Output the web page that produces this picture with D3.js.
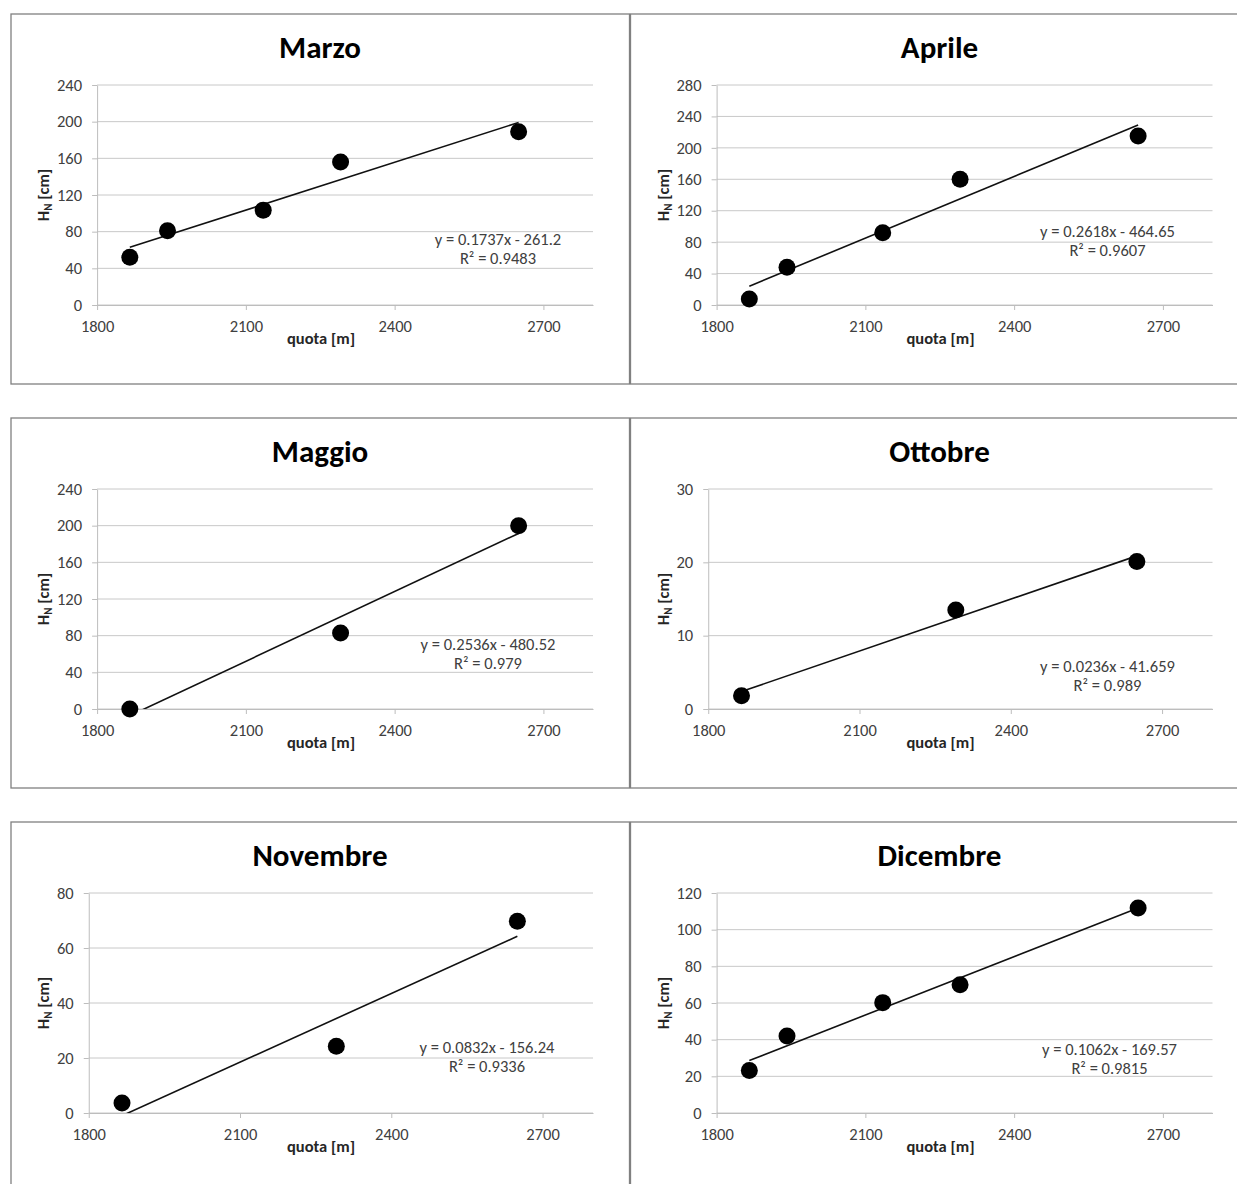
<!DOCTYPE html>
<meta charset="utf-8">
<style>

body {
	margin: 0;
	background-color: #fff;
}

text {
	font-family: Carlito, Calibri, Lato, sans-serif;
}

.frame {
	fill: #fff;
	stroke: #808080;
	stroke-width: 1.3px;
}

.grid {
	stroke: #c8c8c8;
	stroke-width: 1px;
}

.axis path, .axis line {
	stroke: #bdbdbd;
}

.axis text {
	fill: #404040;
	font-size: 16.5px;
}

.title {
	font-size: 31px;
	font-weight: bold;
	fill: #000;
	text-anchor: middle;
}

.axis-title {
	font-size: 16.5px;
	font-weight: bold;
	fill: #262626;
	text-anchor: middle;
}

.eq {
	font-size: 16.5px;
	fill: #404040;
	text-anchor: middle;
}

</style>
<body>

<svg width="1237" height="1184"></svg>

<script src="https://d3js.org/d3.v7.min.js"></script>

<script>

var svg = d3.select("svg");

// data
var months = ["Marzo", "Aprile", "Maggio", "Ottobre", "Novembre", "Dicembre"];
var quotaFive = [1866, 1942, 2135, 2291, 2650];
var quotaThree = [1866, 2291, 2650];
var hnMarzo = [52, 81, 103.5, 156, 189];
var hnAprile = [7.5, 48, 92, 160, 215];
var hnMaggio = [0, 83, 200];
var hnOttobre = [1.8, 13.5, 20.1];
var hnNovembre = [3.6, 24.3, 69.7];
var hnDicembre = [23.2, 42, 60.2, 70, 111.8];
var slopes = [0.1737, 0.2618, 0.2536, 0.0236, 0.0832, 0.1062];
var intercepts = [-261.2, -464.65, -480.52, -41.659, -156.24, -169.57];
var r2 = ["0.9483", "0.9607", "0.979", "0.989", "0.9336", "0.9815"];
var yMax = [240, 280, 240, 30, 80, 120];
var yStep = [40, 40, 40, 10, 20, 20];
var xTicks = [1800, 2100, 2400, 2700];
var xDomain = [1800, 2800];

var series = [
	{x: quotaFive, y: hnMarzo},
	{x: quotaFive, y: hnAprile},
	{x: quotaThree, y: hnMaggio},
	{x: quotaThree, y: hnOttobre},
	{x: quotaThree, y: hnNovembre},
	{x: quotaFive, y: hnDicembre}
];

// where the trendline label sits inside each chart box
var eqSpot = [[487, 226], [477, 218], [477, 227], [477, 249], [476, 226], [479, 228]];

var boxX = [11, 630.5],
	boxY = [14, 418, 822],
	boxW = [618.5, 620],
	boxH = 370;

months.forEach(function(month, i) {
	var col = i % 2, row = Math.floor(i / 2);
	var g = svg.append("g")
		.attr("transform", "translate(" + boxX[col] + "," + boxY[row] + ")");

	g.append("rect")
		.attr("class", "frame")
		.attr("width", boxW[col])
		.attr("height", boxH);

	var yTicks = d3.range(0, yMax[i] + yStep[i] / 2, yStep[i]);

	// excel puts the plot edge after the widest tick label
	var probe = g.append("text").style("font-size", "16.5px")
		.text(String(yMax[i]));
	var labelW = probe.node().getComputedTextLength();
	probe.remove();

	var left = 61 + labelW, right = 582, top = 71, bottom = 291;

	var x = d3.scaleLinear().domain(xDomain).range([left, right]);
	var y = d3.scaleLinear().domain([0, yMax[i]]).range([bottom, top]);

	g.selectAll(".grid")
		.data(yTicks)
		.enter().append("line")
			.attr("class", "grid")
			.attr("x1", left)
			.attr("x2", right)
			.attr("y1", function(d) { return y(d); })
			.attr("y2", function(d) { return y(d); });

	g.append("g")
		.attr("class", "axis")
		.attr("transform", "translate(" + left + ",0)")
		.call(d3.axisLeft(y).tickValues(yTicks).tickSize(5).tickSizeOuter(0).tickPadding(10));

	g.append("g")
		.attr("class", "axis")
		.attr("transform", "translate(0," + bottom + ")")
		.call(d3.axisBottom(x).tickValues(xTicks).tickSize(5).tickSizeOuter(0).tickPadding(10)
			.tickFormat(d3.format("d")));

	g.append("clipPath")
		.attr("id", "clip-" + i)
		.append("rect")
			.attr("x", left)
			.attr("y", top)
			.attr("width", right - left)
			.attr("height", bottom - top);

	var s = series[i];
	var ends = d3.extent(s.x);
	var line = d3.line()
		.x(function(d) { return x(d); })
		.y(function(d) { return y(slopes[i] * d + intercepts[i]); });

	g.append("path")
		.attr("clip-path", "url(#clip-" + i + ")")
		.attr("d", line(ends))
		.attr("fill", "none")
		.attr("stroke", "#111")
		.attr("stroke-width", 1.6);

	g.selectAll(".dot")
		.data(s.x)
		.enter().append("circle")
			.attr("class", "dot")
			.attr("cx", function(d) { return x(d); })
			.attr("cy", function(d, j) { return y(s.y[j]); })
			.attr("r", 8.5)
			.attr("fill", "#000");

	g.append("text")
		.attr("class", "title")
		.attr("x", 309)
		.attr("y", 44)
		.text(month);

	g.append("text")
		.attr("class", "axis-title")
		.attr("x", 310)
		.attr("y", 330)
		.text("quota [m]");

	var yt = g.append("text")
		.attr("class", "axis-title")
		.attr("transform", "translate(38," + ((top + bottom) / 2) + ") rotate(-90)");
	yt.append("tspan").text("H");
	yt.append("tspan").attr("dy", 3).style("font-size", "11px").text("N");
	yt.append("tspan").attr("dy", -3).text(" [cm]");

	var eq = g.append("text")
		.attr("class", "eq")
		.attr("x", eqSpot[i][0])
		.attr("y", eqSpot[i][1] + 5);
	eq.append("tspan")
		.text("y = " + slopes[i] + "x - " + Math.abs(intercepts[i]));
	eq.append("tspan")
		.attr("x", eqSpot[i][0])
		.attr("dy", 19)
		.text("R\u00b2 = " + r2[i]);
});

</script>
